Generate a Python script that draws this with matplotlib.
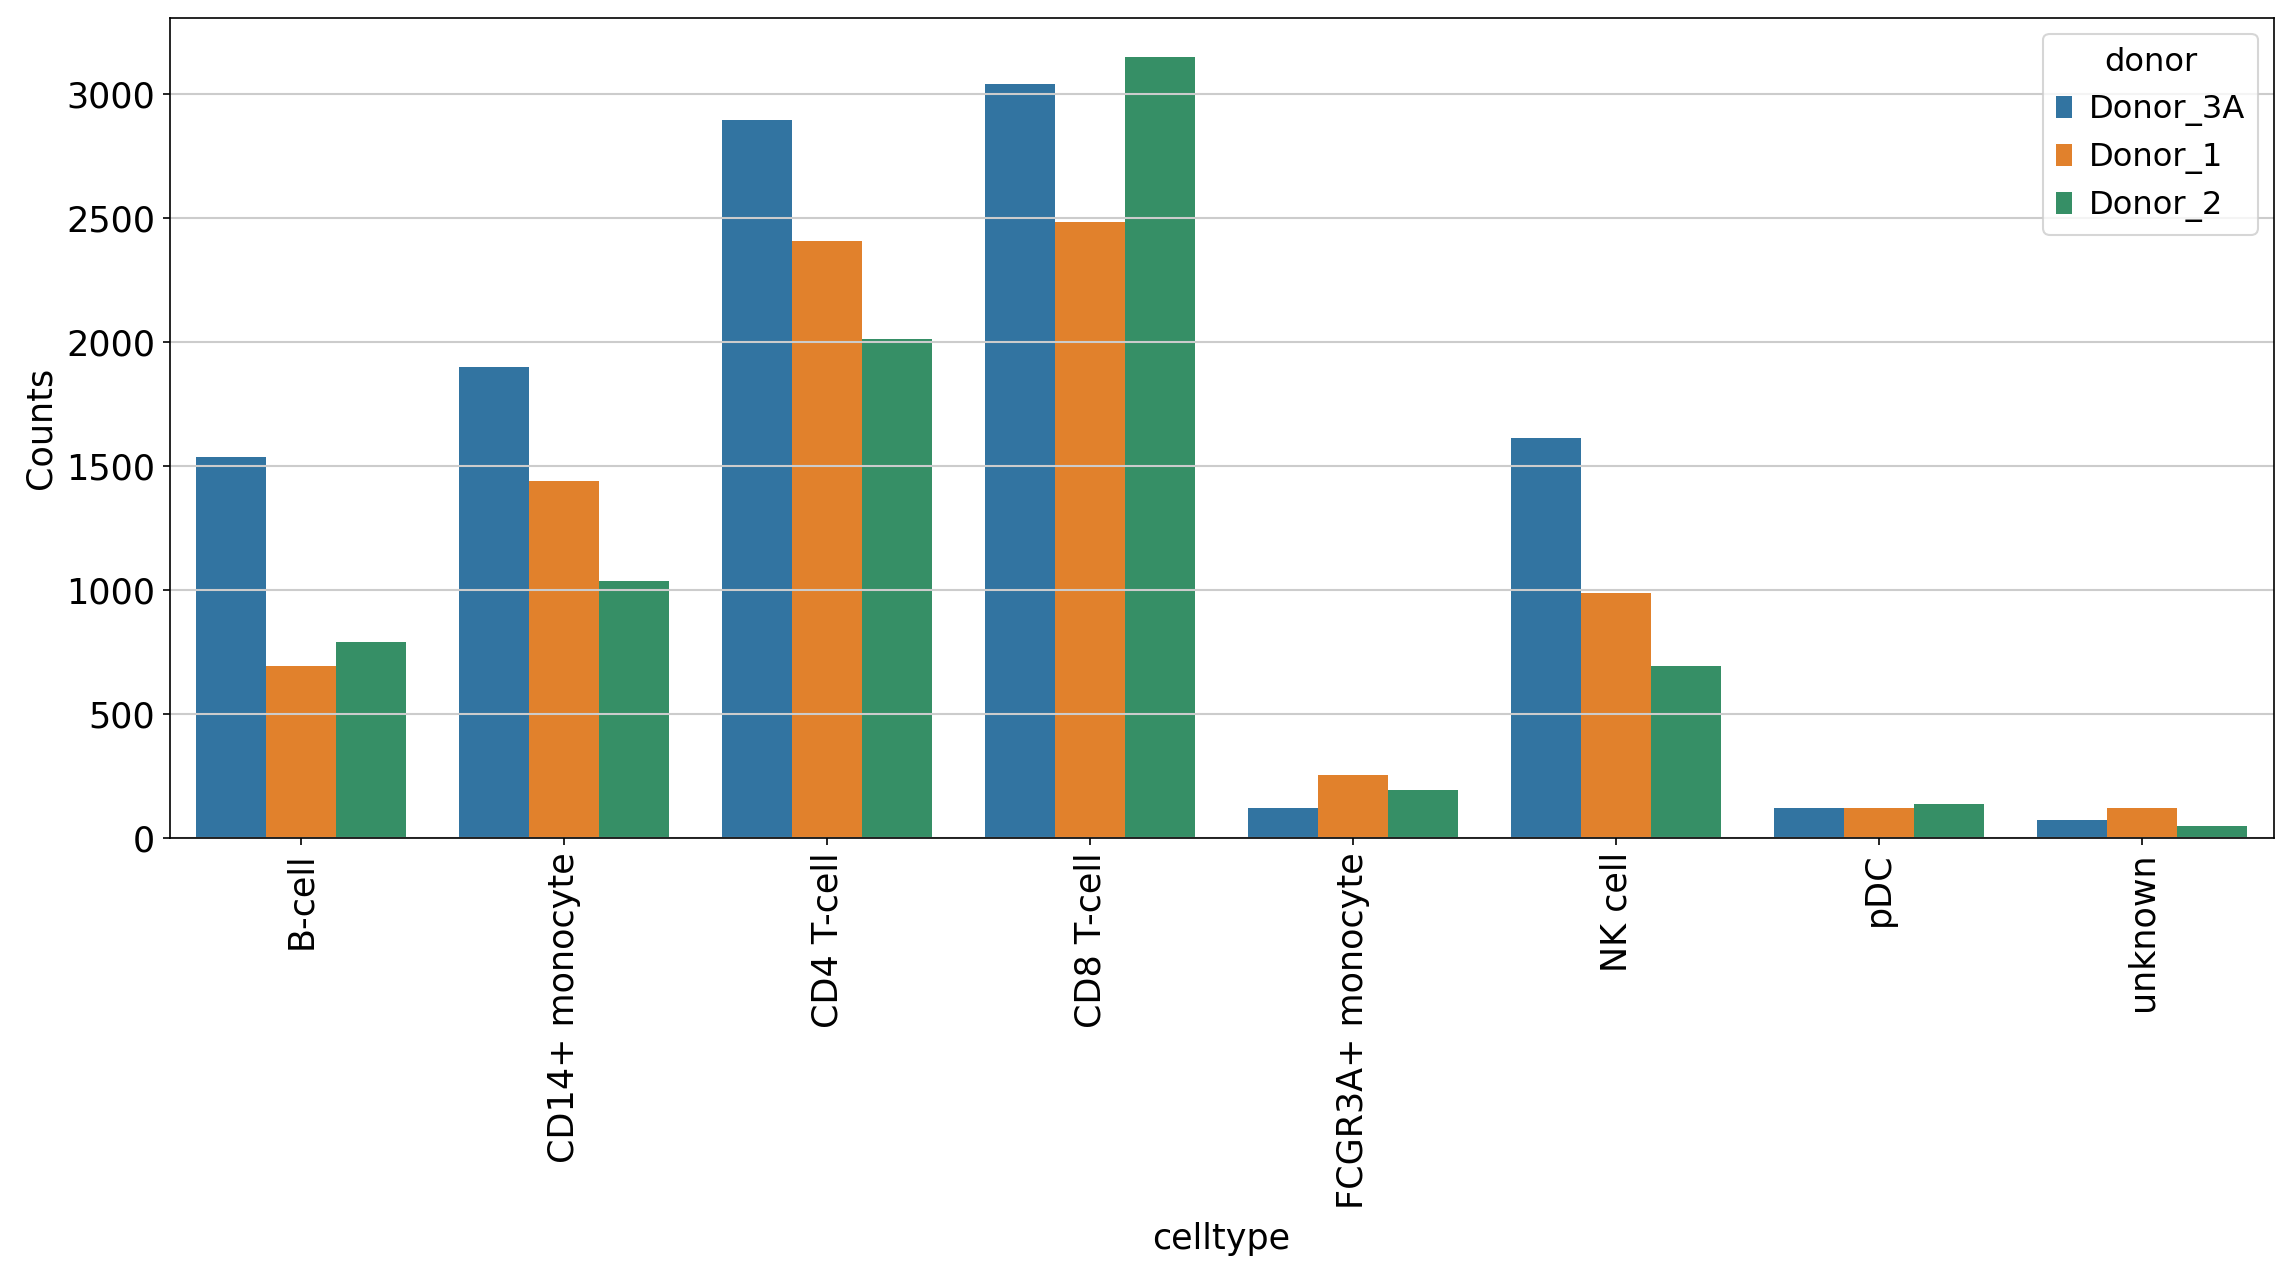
import numpy as np
import matplotlib
matplotlib.use("Agg")
import matplotlib.pyplot as plt

# cell types on the x axis
celltypes = ["B-cell", "CD14+ monocyte", "CD4 T-cell", "CD8 T-cell",
             "FCGR3A+ monocyte", "NK cell", "pDC", "unknown"]
donors = ["Donor_3A", "Donor_1", "Donor_2"]

# counts per donor
counts_donor_3a = [1538, 1900, 2896, 3041, 118, 1611, 118, 70]
counts_donor_1 = [693, 1440, 2407, 2485, 251, 987, 118, 118]
counts_donor_2 = [790, 1037, 2013, 3151, 191, 692, 134, 46]

colors = ["#3274a1", "#e1812c", "#368f66"]

plt.rcParams["font.size"] = 16.8

fig, ax = plt.subplots(figsize=(15.28, 8.5), dpi=150)
fig.subplots_adjust(left=0.074, right=0.992, top=0.986, bottom=0.343)

x = np.arange(len(celltypes))
width = 0.8 / len(donors)
series = [counts_donor_3a, counts_donor_1, counts_donor_2]
for i, (name, vals) in enumerate(zip(donors, series)):
    offset = (i - 1) * width
    ax.bar(x + offset, vals, width=width, color=colors[i], label=name)

ax.set_xticks(x)
ax.set_xticklabels(celltypes, rotation=90)
ax.set_xlim(-0.5, len(celltypes) - 0.5)
ax.set_xlabel("celltype", labelpad=6)
ax.set_ylabel("Counts")
ax.grid(axis="y", color="#cccccc", linewidth=1.0)

ax.legend(title="donor", loc="upper right", fontsize=15.4, title_fontsize=15.4,
          handlelength=0.5, handleheight=0.68, handletextpad=0.5)

fig.savefig("out.png", dpi=150)
